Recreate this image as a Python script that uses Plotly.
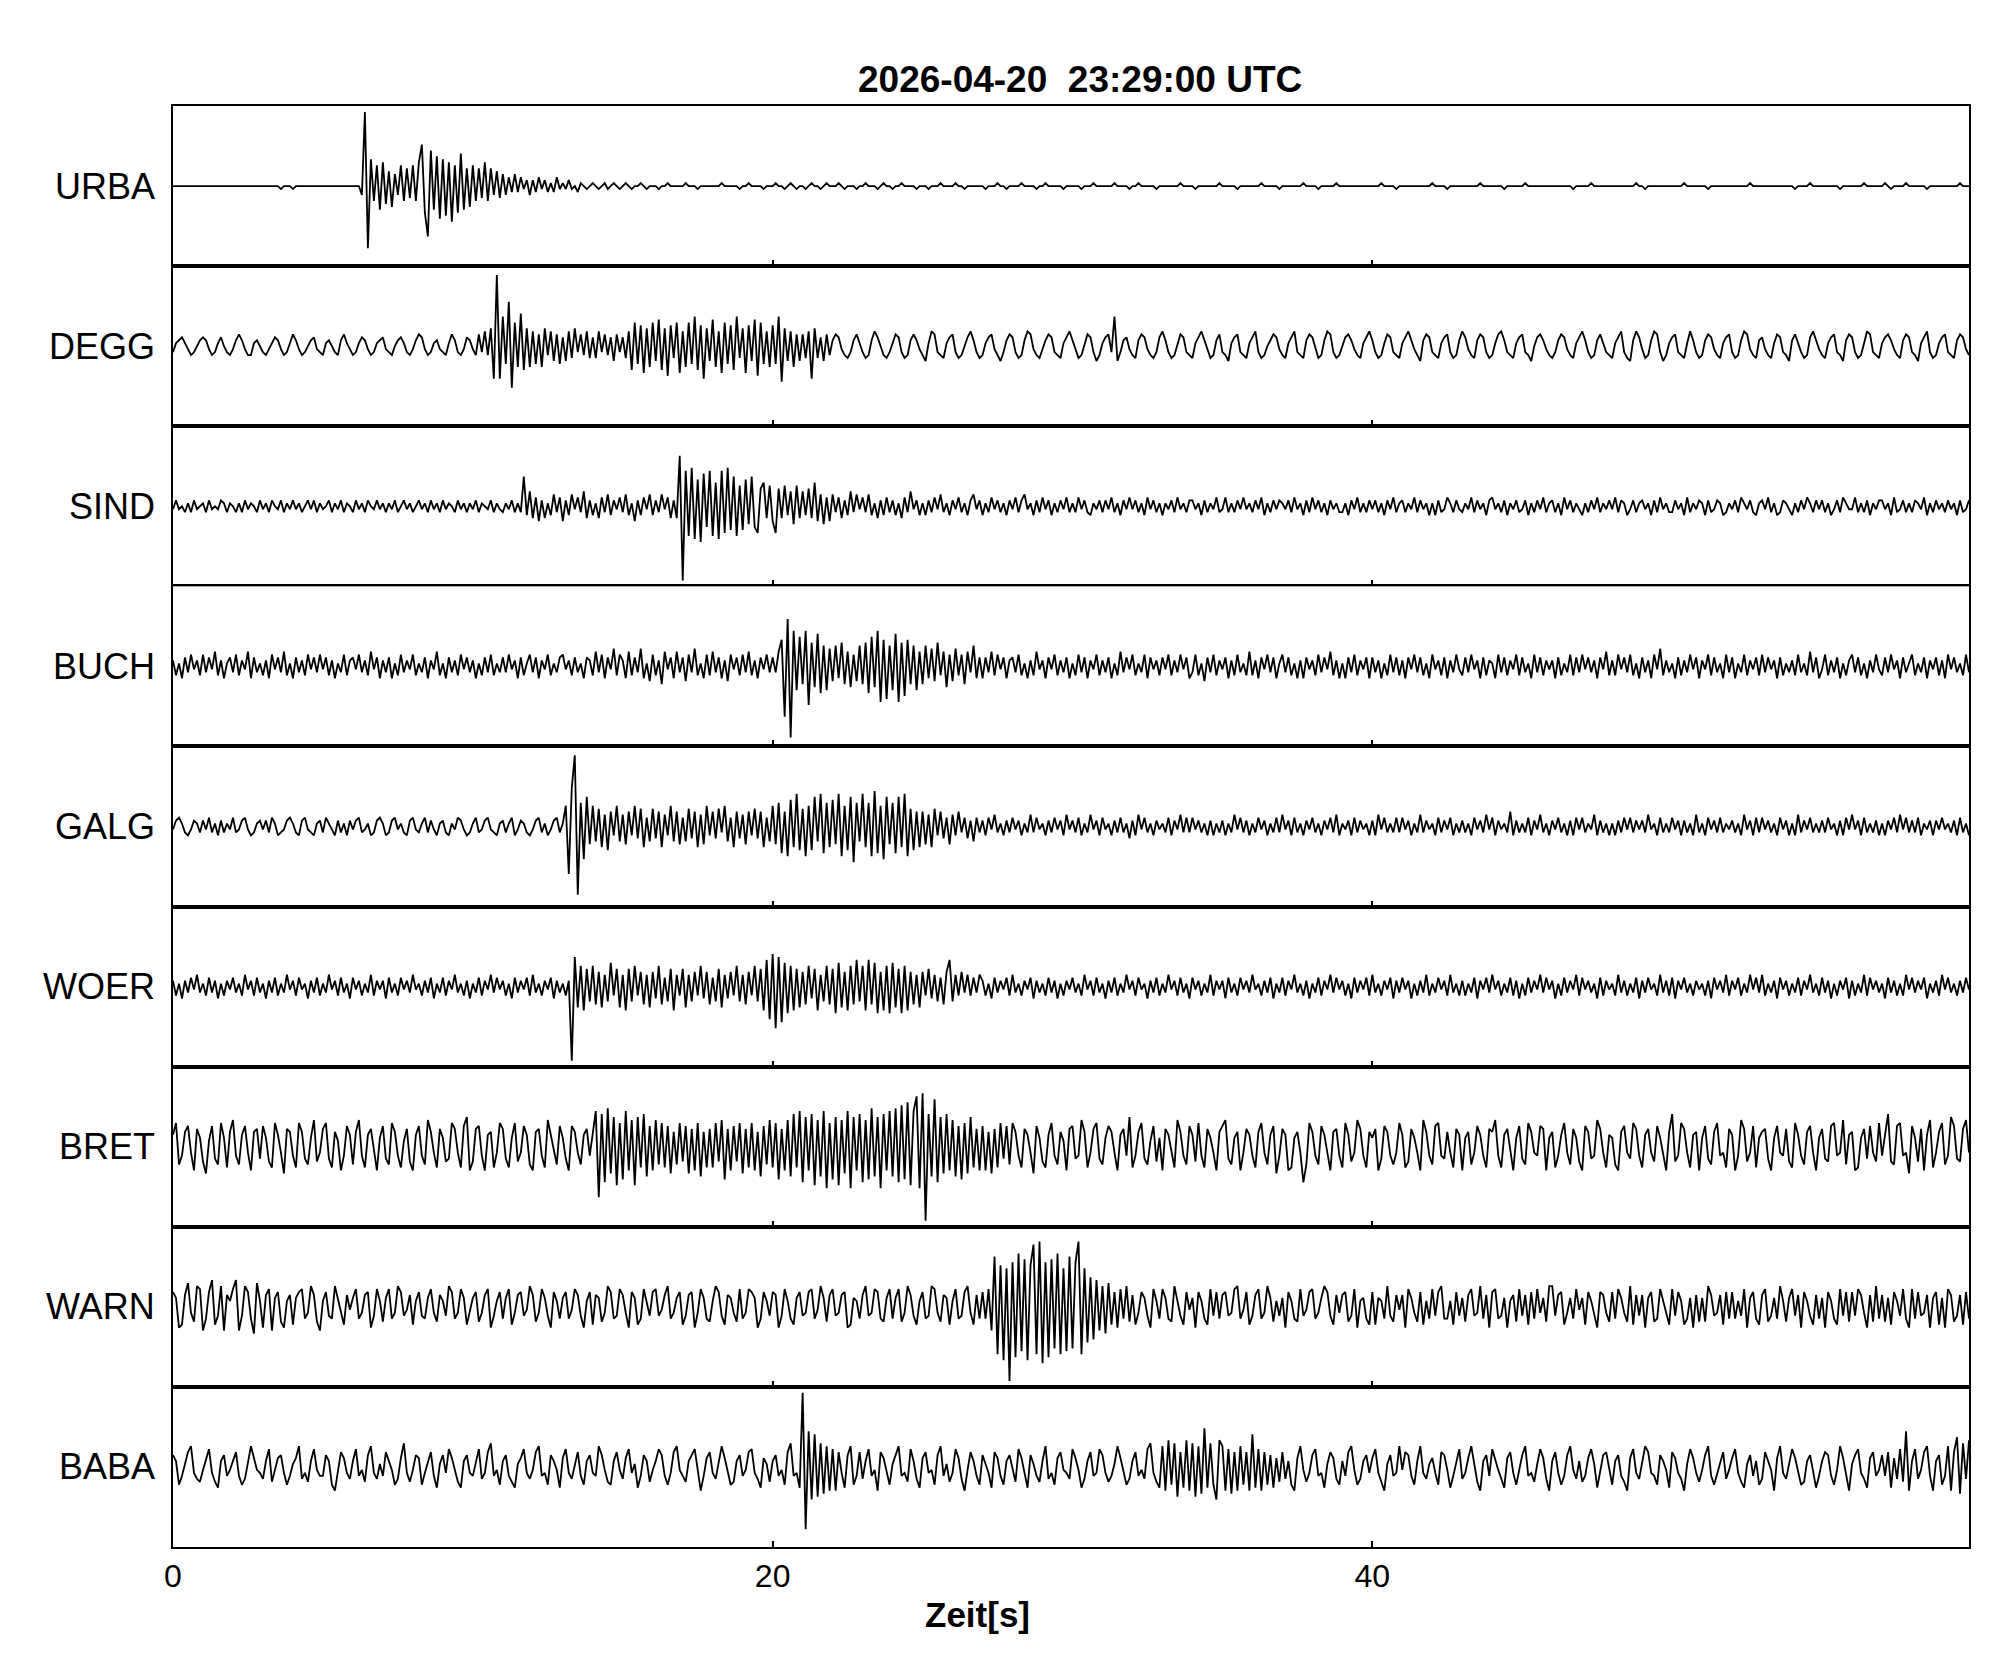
import numpy as np
import plotly.graph_objects as go
from plotly.subplots import make_subplots

# seismogram samples, 0.1 s apart, one char per sample, one group of 10 per second
# '0' = 0, 'A'..'Z' = +1..+26, 'a'..'z' = -1..-26 (27 units = half a panel)
DT = 0.1
TITLE = "2026-04-20\u00a0 23:29:00 UTC"
X_TICKS = [0, 20, 40]
STATIONS = ["URBA", "DEGG", "SIND", "BUCH", "GALG", "WOER", "BRET", "WARN", "BABA"]

URBA = [
    "0000000000 0000000000 0000000000 000000a000 a000000000 0000000000 000cYuIeGh HfEgDcGeFd GeHNiqLhJk IjHlGiKhFg",
    "GeFdHeFcEd DcCbDbCaBc BbCaBbAbCa AaBa0bA0a0 A0a0Aa0A0a 0A0a00A0a0 00a00A0000 0A000a0000 000A00000a 00A0000a00",
    "0A00a0A0a0 0a0A00a0A0 00A0a000a0 0A000a0A00 a00A0000a0 00a000A000 0A00a00000 0a000A00a0 000A0000a0 0A00000a00",
    "000a000A00 0000A0000a 00A00000a0 000000A000 0a0000000A 00000a0000 000A00000a 0000000A00 00a00000A0 0000000000",
    "000A0000a0 0000000000 A0000a0000 000000A000 0000a00000 0A00000000 0000000a00 000A000000 00000000A0 0a00000000",
    "0000A00000 00a0000000 000000A000 0000000000 0a0000A000 000000a000 0000A00000 0A0a0000A0 00000a0000 000000A000",
]
DEGG = [
    "bABCAacb0B CBacbAC0bc aBDBaccAB0 bcaACBacbA DBacb0BCab cAB0bcBDAa cbACBacbAB Cabc0BCAbc aBDCacbABa bcADBbcaCB",
    "acDbEcFkXk JfOnHgKhFg EfDgFcEeDf CeEdFbDcEd CdEbDcCeDb CdEhHfGiFg HeIhFjGdHi EgHfJhGkFe IgEiHfGhJd FiGeIjHfEg",
    "GfJlFeEgDe DdEkFdCeDc BDCacdbBDA bdcBEC0cdb ADCbdcBDBa ceAEDbcdAC Dbdc0CEBbd cACDacebBD CbdcBEDacd aBDCbcdACE",
    "BadcADCbec ACDbJebBCa cdBDCacdbC EBbdcADCbc dACEBadcBD bceACDbcdA CEbdc0BDCa cdACEbcdBD CadcBEDbdc 0CDBacdACE",
    "BbdcADCbcd ACEBaceBDC bcdACDbdcB ECacdBDCbd cADEBbcdAC Dbce0CDBac dbBDCacdAC EBbdcBDAbc dACEbdeBEC adcBEDbecA",
    "CDbcdAEBbd cBDCacdACD bdcBEDacdB CacdADCbce BDAbdcCEBa cdACDbceBD CbdcAEDbcd ACDBacdBDC bceACEbdcA CDbcdBDCac",
]
SIND = [
    "aBa0bAbBa0 AbBa0aBAbA 0bAbBaA0bB aAbB0aBbAa BaAb0BaBbA a0BbAaBbA0 bBaAbB0aBa AbAaBb0BaA b0BaAbBaAb BaA0bBaAbA",
    "aBbA0aBbAa bAaBbAbJcE dCeBdAcDbC eBcDaCbEdB cAdCbDcBaC bDcAeBcCaD cBbDaCdBdQ yLjMkIlKgL jHkLiMhJjG hIfJgiFHdG",
    "eiFdGcEfGd EcFdHeDfCe DbCdBcEbDa CbDcAdBcCb BcAdCbEaBc AcBbCaDbAc BaCbAcBDaB cAbCaBbAcB aCbBDaAcBb CaBcAbBaCb",
    "AbCaBbcAaB bBaCbAcBaC aBbAcCaBbA cAaBbCaAbB BaAcBbAaCb aCbAbBaCaA bBaCcAbBaB AaBbCaAcBb CaBbAcBaAb bAcBaCbAbB",
    "aBbAcBaCbA BbAaCbBaAc AcBbaCAbBa bAaCbBaAcB CaAbBcAaBb aBcAbBaCbA BbAcCaBbAa cAbBaCbAaB aCbBAcaBbA BaAcBbCaAb",
    "bBaAcCbAaB AcBbaBAcbA aBbCAaBbcA BaCbAcbBAa cAbBaCAbBa BbAcaBbCAa aCbAbBcAaB BaAcCbaBbA bBAaCcAbBa AbBaAcBbaB",
]
BUCH = [
    "BcAdCbDaBc DbCaEcBdAC bDcBaEdCbA cBdDaCbEcA dCbBcDaCbD aCcBdAbDcB CaDbBcEaCd BbCdAcDbBa DcAbCdBaEc AdCbBcDaCb",
    "BdAcCbDcAb CbDaBdCcAD bCdBaDcAbC DaBcCbAdCB cEbDdCaFcD BdEcCbFdAe DcBfEaCdEb CeDbFcAdDc EbCdBeDaCc DbEcBdCaDb",
    "CbEIqPxLhJ fLmHgKiGhF eGdHfEgDeG fHiJgLlIkG hKlHjIfGhE fGdFeHcEgD eFcDfEbGdC dCbEcDaCdB CbDcAdBcEa BdCaDcBbCd",
    "AcDbCdBaDc BbCdAcEbCa DcAbDdCaBc CaDcBbDaCd bDcAeCbDcB aCdBcDbAcE cBdCaDbCdA DbCcAdBdCa BcDbCaEcBd AdCbDcBaCd",
    "CbBdAcDbCc BdCaDbCcAd DaBcCdBbDa cCbDaBdCcB AdDbCcBaDc CbAdDbCcBa BdCcAbDcCb DaCbBdCaEc BcDaCbDcAd CbBdDaFcBb",
    "AdCcBbDaCd BaDcCbAdDb CdAbDcBaCc DbCaBdCcAb BcDbAcEbCd aDcBbCdAcB DbCcAdBbDa cCbDaBdCbA DcAbCdBaCc BdDaCbAcDb",
]
GALG = [
    "aBCAbcaBAb BaCbAcBbAa CbaBCacbAB aBbCAcbaBC AbcBCabcAB bCAacBbAcB aBCbaAcbBC AcbBCaAbcB CabACbBacA BbcAaCBacb",
    "ACbaBCabcA BbACcaBAbc aBCbAcaBCb AGpMXwHkJf GeFgDhEcGe DfEcGdFgCe FdEgDcGeEf CeFdEgDfGc EdFbGeCgEd DfEcFdEgCe",
    "GfHiEjIgKh FjGhJeKiHg IfKjGhJlHe KgHjLiGkJf HiJgKjFhEg EfDgFcEdCf DcEbCdBeCb BcCaDbAcBb CaBcAbDbCa AcBbCaBcDa",
    "BbCcAbDaBc CaAcBbCbAd BcDaCbAcBa AbCcBaDbCb CaBbAcBcAb BcAbDaCbBc AbCaBcAbCb DaBcCbAcBa CbAcBaCbDc AaBcCbBaAc",
    "BcDaCbAbCb CaBcAbDbBa AcCbBaCcAb BbAcCaBbDa CcBaAbEcBb AbCcBaDbAc BaCbAcBcCa CbAaDcBbAc AcBbCaCbBa BbDaAcCbAb",
    "CaBcBbAcDb AcCaBbCbAa BbAcDaBcCb CaBbAcCaBc AcDbBaCbAb BbCaAcBcCa DaBcCbAbBc AcBaCbDaCb BbCcAaBcBa CaAbBcCbAc",
]
WOER = [
    "BcAdBbCaDb AcCbBdAcBa CbAcDaBcCb AdBbCcAbDa BcCaAdBbCc AbDaBcCbAd CaBcAbDcBa BdCbAcCaBb DaAcBbCdAb CcBaDbAcBd",
    "AbCcBaDbCa BcAdCbBaCc DbAcBaCdBb AcByJgGhFe GfEgDeHcFg DhFeGcEfDg EdGfCeFhDc FgDeEcGdEf CeFgDdEcGe DfEcGeFhIk",
    "KnJlHiGhFg EfGdFhDeGf FiHgEhGfIe GhIfHiEhGi HgFiGhEfDg EcFdDeCfEI eDcEbDcCbD BcAdCbBaCc DbAcBaCdBb AcCbBdAcBa",
    "CbAcDaBcCb AdBbCcAbDa BcCaAdBbCc AbDaBcCbAd CaBcAbDcBa BdCbAcCaBb DaAcBbCdAb CcBaDbAcBd AbCcBaDbCa BcAdCbBaCc",
    "DbAcBaCdBb CaBdAcBbDc AbCaBcDbAc BcAbCdBaCb DaBcAbCcBd AcCbBaDbCa BdAcCbBaDc CaBbAdCcBa AcDbBcAbCd BbCaAcDbBc",
    "CdBaCbAcBa AcBdCaBbDc BaCcAbDaCb DcAbBdCaBc AbCcBaDbAc CbBdAcBaCd BcAbDcCaBb AdCbBcAcDa CbBaCdAbBc DaCbAcBbCa",
]
BRET = [
    "DHfcEGbhFC eiBGdfHCgE IcfDGbhEFd GCegHDbiFE cgHEdfCIeb FHdgEBhcGD fEIcgDFbhC GdfHEcgBFe hDGcfIEbgF CedHFbgGJh",
    "eFGchDEgbH FdgCHebGDf hEFcgIDbfG CdhGEbfDFc ELqKlMiJmH kLhImJgKjG hIfHgGiEfH eGiFhHjEgF gHeIkFhGeH iFgHhEjGfI",
    "gHkFhIjKgL lJhKmIjLnH kJmIiLnJhK lIkMjJnKhL jMlNkOmLQn RyKjPlJiKh IjGkHiJgFh GhEiFgHdGf HEcgFDbiGC egDHcfEBhF",
    "GdcIEgbFHd fCGEbhDFcJ gcEHdfBGeC hFDbgIEcfG DeHcgFCbhE GIdfCEhbFD cgEHbfDGic FDhgCEblfH EcfGDbhEFc gHDebIFcgE",
    "CFhdGEcfbH DgeFCbhIEc fGHcdEbgFD hCEfbGDcgF EIcgDFbhCG dfHEbcGFhC EgcDHbfFCe hGEdcIFbgD CfhEGbdHFc gDFbeGCchE",
    "KecHFbgDEh CGdfEHcbgF DhcIFebGgC EFdhCGbcFe gHDcfEGbhC FdeGHcbIfD EhgCFdGbeH cDKefGHcbi GCeFhDIgbE HfcJGdeFIb",
]
WARN = [
    "ECgfDHbeGF hdEIfcGhDB FIhcGEdiHB gDFhCEegBD fCEFdbGDeh BEcdGCbfDa CFdbDEgcFB eCFdbGEcaD fBEcdCFbeD BcGEdbFCfa",
    "CEebDFgcBE dCFfbDEcaG DebFCcgEBd CEdaFDcgBE fDCebGEdcF DbgECfdFBc EFcaDGdbCE fcDEgbFCde BGEcfDCbeF dbFECgdEBc",
    "EDgcFBdfCE cbEFdaGCeD FcbDEgfCBd DGcbFEdeCF dCFebGDcfB EdcGFbeDCf BFdcEGbfDd EdFhQpNrMy OqRoPrNUpV sOqPnRpMoQ",
    "nOVpMlJkIh GiHfEgFdGe DfbECcgFBd FCdeGBcfEa CgEBdfFcEd DEcbFGdaEf cDFdbGCeBc CgEBdeFcaE FdbCGEcfDb DEecFgBCdf",
    "EfCBdGceDa DgFCbeEfBd FcEGddBfEc CeDFcbGdDg EFdcCgBDeF cDfEdFbCeG GcDEfbCdFa CfEBcgEDbe EdFCbeGfDc DgCEedFBcf",
    "FcEBfdCgDe CeGDcbDfEd EdBcFgCEdf DFecCdGBeC FcDgEBcfDd CgEBdfFcEe EcFDbgDeGd DeCfEBcFdg FdEcbDgCEf CgFDecDfEd",
]
BABA = [
    "DBfcAEGbde aCFbegBDca BEcfdAGCab dBFeaCDbfc ACGdbeBFac cDBfhaECbd BFcaeDGbdA cEBafdCHbe aDCfbBEcgA DbFCaegBDb",
    "cAFdbEHcaf BDcegACFbd aEGcbfDBag CFbdAEcfBD bcGDaefBEa dCFbAgcDBe aBFDcfbEGa ceBDFahcCE bdAGCbfeBD caEFbdgCAe",
    "BDcafEHcbg YuLkKjHiGh FhEbgDGfcE dBFcahECbf ADGcbeFBdg CEbafDGcAe bFCdhaEBcf DAbgECcfBD aeFCbgDAce BGdbfCEabd",
    "FCagdBEcbF DbecAGCbfd BEcadFHbeg GhIfHjEgIh HjGiMgHfkI GhFiEhGfEh KgFhEfDgCe EdBfhCGaeb DFcbgAECdf BcEGafdBDb",
    "CFbehADcbG aEDcfBGbdA CbfEDagcBF dbCGAehBDc FBadgCEbfa DGcbeAFCdh BEbfcDGadB ecCFAgbDEa fBDcehCFbd AGEbcfDBag",
    "ECbdhAFCbe aDGcfbBEda CFbegADcBf dEBahCGbdA FCbfeBDagc BEDcfaGCbh ADFbdgCEca DcEgCdFeLh BFdaEGchBD fcGhEJiHdI",
]

TRACES = [URBA, DEGG, SIND, BUCH, GALG, WOER, BRET, WARN, BABA]
Y_HALF = 27


def decode(lines):
    vals = []
    for g in " ".join(lines).split():
        for c in g[:10].ljust(10, "0"):
            if c == "0":
                vals.append(0)
            elif c.isupper():
                vals.append(ord(c) - 64)
            else:
                vals.append(-(ord(c) - 96))
    return np.array(vals, dtype=float)


n_rows = len(STATIONS)
fig = make_subplots(rows=n_rows, cols=1, shared_xaxes=True, vertical_spacing=0)

for i, (name, lines) in enumerate(zip(STATIONS, TRACES)):
    y = decode(lines)
    t = np.arange(len(y)) * DT
    fig.add_trace(
        go.Scatter(x=t, y=y, mode="lines",
                   line=dict(color="black", width=1.8),
                   hoverinfo="skip", showlegend=False),
        row=i + 1, col=1)
    yref = "y domain" if i == 0 else "y%d domain" % (i + 1)
    fig.add_annotation(text=name, xref="paper", yref=yref,
                       x=-0.009, y=0.5, xanchor="right", yanchor="middle",
                       showarrow=False, font=dict(size=36, color="black"))

fig.update_xaxes(range=[0, 59.9], tickvals=X_TICKS, ticks="inside",
                 ticklen=6, tickwidth=1.5, tickcolor="black",
                 showline=True, linecolor="black", linewidth=2, mirror=True,
                 showgrid=False, zeroline=False,
                 tickfont=dict(size=32, color="black"))
fig.update_yaxes(range=[-Y_HALF, Y_HALF], showticklabels=False, ticks="",
                 showline=True, linecolor="black", linewidth=2, mirror=True,
                 showgrid=False, zeroline=False)

fig.add_annotation(text="<b>%s</b>" % TITLE, xref="paper", yref="paper",
                   x=0.505, y=1.0187, xanchor="center", yanchor="middle",
                   showarrow=False, font=dict(size=37, color="black"))
fig.add_annotation(text="<b>Zeit[s]</b>", xref="paper", yref="paper",
                   x=0.448, y=-0.047, xanchor="center", yanchor="middle",
                   showarrow=False, font=dict(size=35, color="black"))

# the page body adds an 8 px offset, so the margins are shifted to compensate
fig.update_layout(
    width=2005, height=1680,
    margin=dict(l=165, r=44, t=98, b=141, pad=0),
    plot_bgcolor="white", paper_bgcolor="white",
    font=dict(family="Liberation Sans, Arial, sans-serif", color="black"),
    showlegend=False,
)

fig.write_html("out.html")
